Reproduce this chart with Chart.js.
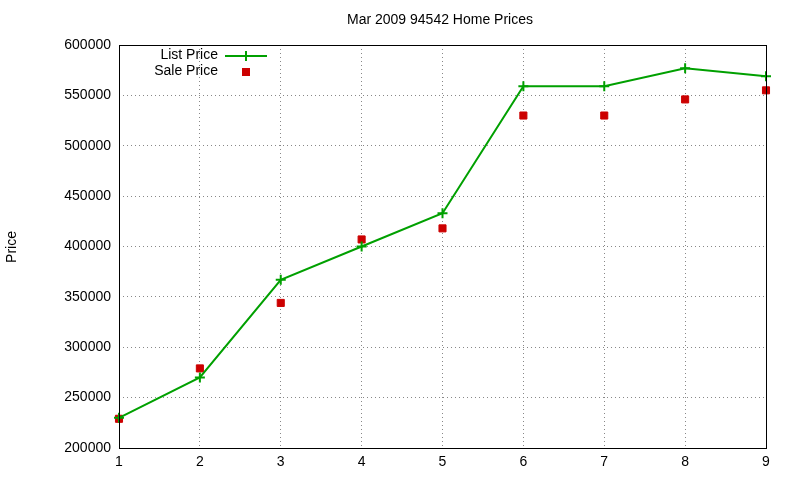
<!DOCTYPE html>
<html><head><script src="https://cdn.jsdelivr.net/npm/chart.js@4"></script>
<style>body{margin:0;background:#fff}</style></head>
<body><div style="width:800px;height:480px"><canvas id="c"></canvas></div>
<script>
const xs=[1,2,3,4,5,6,7,8,9];
const listPrice=[230000,270000,367000,400000,433000,559000,559000,577000,569000];
const salePrice=[229000,279000,344000,407000,418000,530000,530000,546000,555000];
const F='"Liberation Sans", Arial, sans-serif';
const deco={id:'deco',afterDraw(ch){const c=ch.ctx,a=ch.chartArea;c.save();
c.strokeStyle='#000';c.lineWidth=1;c.strokeRect(a.left+0.5,a.top+0.5,a.right-a.left,a.bottom-a.top);
c.fillStyle='#000';c.font='14px '+F;c.textAlign='center';c.textBaseline='middle';
c.fillText('Mar 2009 94542 Home Prices',440,20);
c.save();c.translate(12,247);c.rotate(-Math.PI/2);c.fillText('Price',0,0);c.restore();
c.textAlign='right';c.fillText('List Price',218,55);c.fillText('Sale Price',218,71);
c.strokeStyle='#00a000';c.lineWidth=2;c.beginPath();c.moveTo(225,56);c.lineTo(267,56);c.stroke();
c.beginPath();c.moveTo(246,51);c.lineTo(246,61);c.moveTo(241,56);c.lineTo(251,56);c.stroke();
c.fillStyle='#cc0000';c.fillRect(242,68,8,8);c.restore();}};
new Chart(document.getElementById('c'),{type:'line',data:{datasets:[
{label:'List Price',data:xs.map((x,i)=>({x,y:listPrice[i]})),borderColor:'#00a000',backgroundColor:'#00a000',borderWidth:2,pointStyle:'cross',pointRadius:5,pointBorderWidth:2,tension:0,clip:false},
{label:'Sale Price',data:xs.map((x,i)=>({x,y:salePrice[i]})),showLine:false,pointStyle:'rect',pointRadius:5,backgroundColor:'#cc0000',borderColor:'#cc0000',clip:false}]},
options:{responsive:true,maintainAspectRatio:false,animation:false,
layout:{padding:{top:45,right:34,left:0,bottom:0}},
plugins:{legend:{display:false},title:{display:false},tooltip:{enabled:false}},
scales:{x:{type:'linear',min:1,max:9,afterFit(s){s.height=32},grid:{color:'#888',drawTicks:false},border:{dash:[1,3],display:false},
ticks:{stepSize:1,color:'#000',font:{family:F,size:14},padding:6}},
y:{min:200000,max:600000,afterFit(s){s.width=119},grid:{color:'#888',drawTicks:false},border:{dash:[1,3],display:false},
ticks:{stepSize:50000,color:'#000',font:{family:F,size:14},padding:8,callback:v=>String(v)}}}},
plugins:[deco]});
</script></body></html>
